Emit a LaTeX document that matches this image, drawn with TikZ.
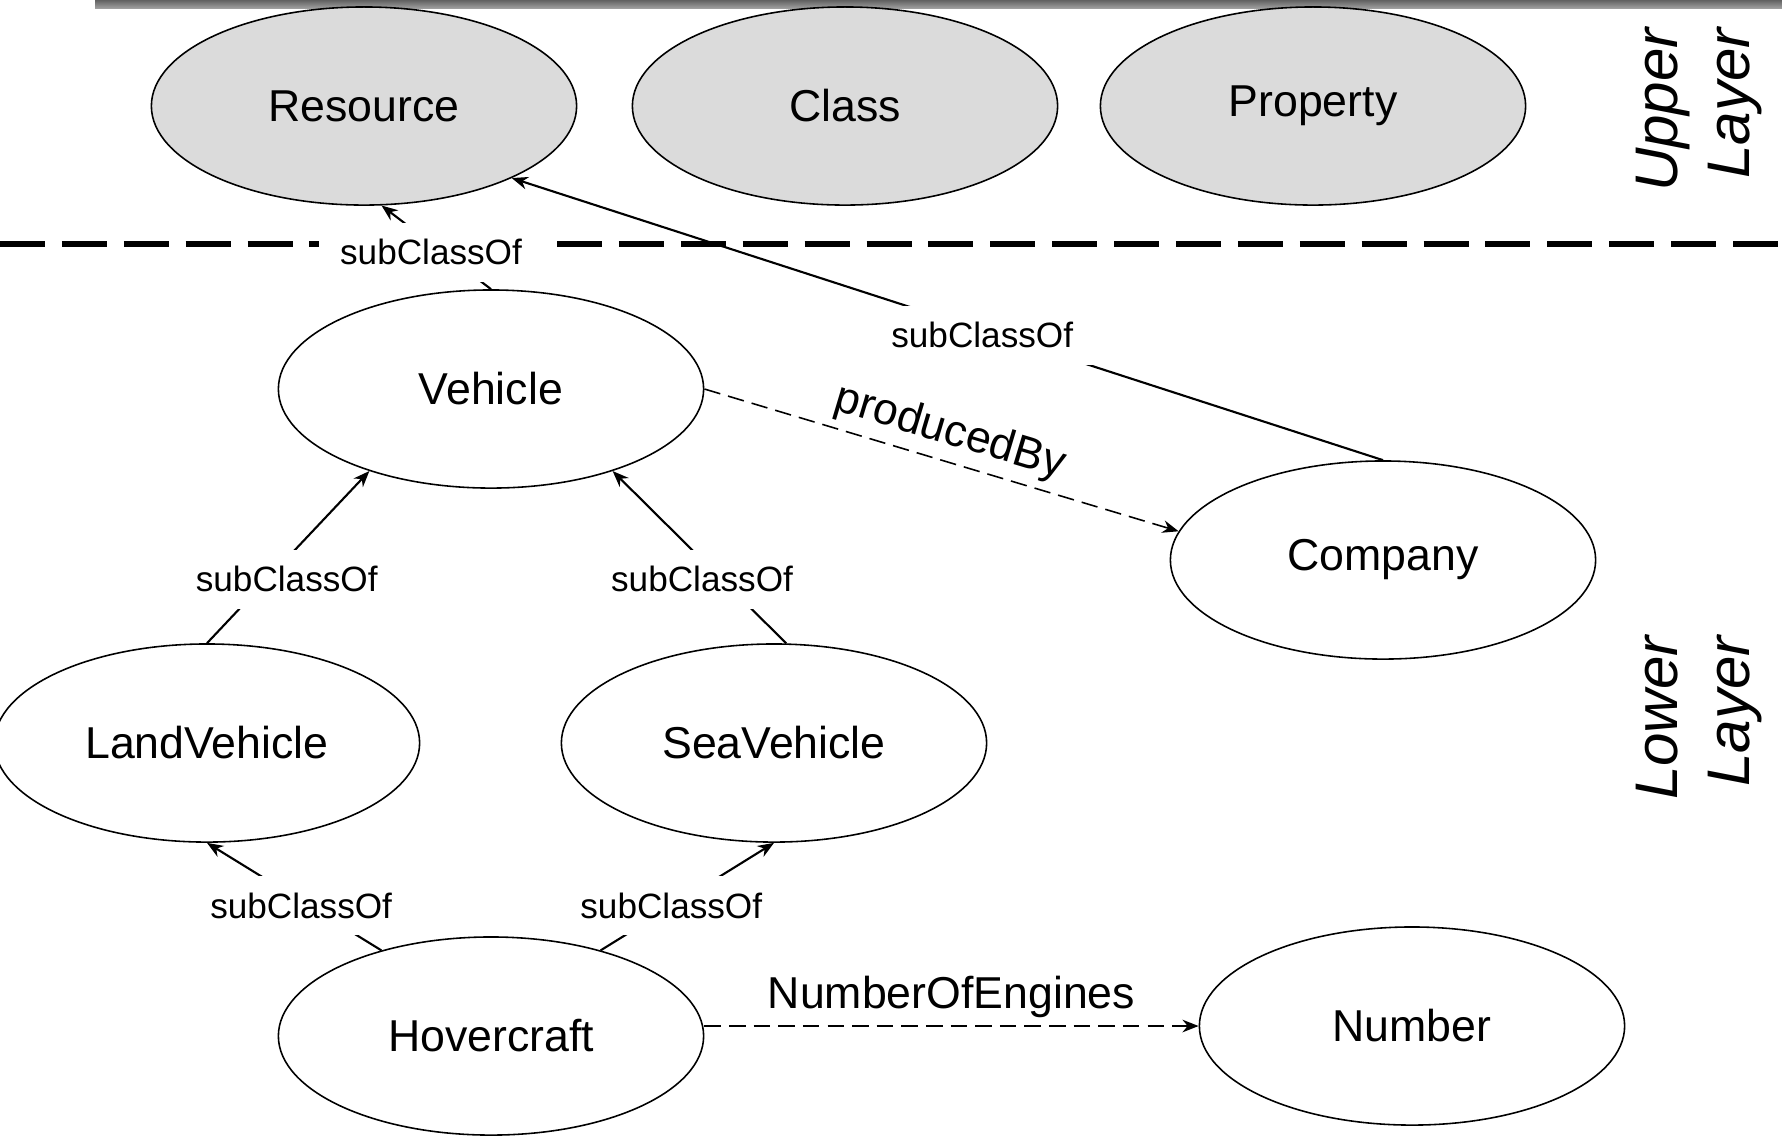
\documentclass[tikz,border=0pt]{standalone}
\usepackage{fontspec}
\setmainfont{Liberation Sans}
\usetikzlibrary{shapes.geometric,arrows.meta}
\begin{document}
\begin{tikzpicture}[x=0.01cm,y=-0.01cm,>={Stealth[length=4.6pt,width=3.6pt]},
  lop/.style={ellipse,draw,line width=0.45pt,minimum width=4.25cm,minimum height=1.98cm,inner sep=0pt,font=\fontsize{12.7}{15}\selectfont},
  goc/.style={lop,fill=black!14},
  nhan/.style={fill=white,inner xsep=6pt,inner ysep=4.7pt,yshift=-1.4pt,font=\fontsize{10}{12}\selectfont},
  thuoctinh/.style={inner sep=2pt,font=\fontsize{12.7}{15}\selectfont},
  tang/.style={rotate=90,align=right,font=\fontsize{17.1}{20.5}\selectfont\itshape}]
\useasboundingbox (0,0) rectangle (1782,1144);
%Thanh tren
\shade[top color=black!62,bottom color=black!38] (95,0) rectangle (1782,8);
%Duong chia tang
\draw[line width=1.7pt,dash pattern=on 12.8pt off 4.8pt] (0,244) -- (1782,244);
%Tang tren
\node[goc] (resource) at (364,106) {Resource};
\node[goc] (class) at (845,106) {Class};
\node[goc] (property) at (1313,106) {Property};
\node[tang] (upper) at (1699,110) {Upper\\Layer};
%Tang duoi
\node[lop] (vehicle) at (491,389) {Vehicle};
\node[lop] (company) at (1383,560) {Company};
\node[lop] (landvehicle) at (207,743) {LandVehicle};
\node[lop] (seavehicle) at (774,743) {SeaVehicle};
\node[lop] (hovercraft) at (491,1036) {Hovercraft};
\node[lop] (number) at (1412,1026) {Number};
\node[tang] (lower) at (1699,718) {Lower\\Layer};
%Mui ten subClassOf
\draw[->,line width=0.6pt] (vehicle.north) -- (resource.-80) node[nhan,pos=0.5,xshift=-1.5pt]{subClassOf};
\draw[->,line width=0.6pt] (company.north) -- (resource.-26) node[nhan,pos=0.46]{subClassOf};
\draw[->,line width=0.6pt] (landvehicle.north) -- (vehicle.-146) node[nhan,pos=0.4,xshift=4.2pt]{subClassOf};
\draw[->,line width=0.6pt] (seavehicle.83) -- (vehicle.-34) node[nhan,pos=0.4,xshift=-4.2pt]{subClassOf};
\draw[->,line width=0.6pt] (hovercraft.142) -- (landvehicle.south) node[nhan,pos=0.46]{subClassOf};
\draw[->,line width=0.6pt] (hovercraft.38) -- (seavehicle.south) node[nhan,pos=0.46,xshift=-2.6pt]{subClassOf};
%Mui ten thuoc tinh
\draw[->,line width=0.45pt,dash pattern=on 4.7pt off 2.3pt] (vehicle.east) -- (company.172) node[thuoctinh,midway,sloped,above]{producedBy};
\draw[->,line width=0.45pt,dash pattern=on 4.7pt off 2.3pt] (hovercraft.east |- number.west) -- (number.west) node[thuoctinh,midway,above]{NumberOfEngines};
\end{tikzpicture}
\end{document}
